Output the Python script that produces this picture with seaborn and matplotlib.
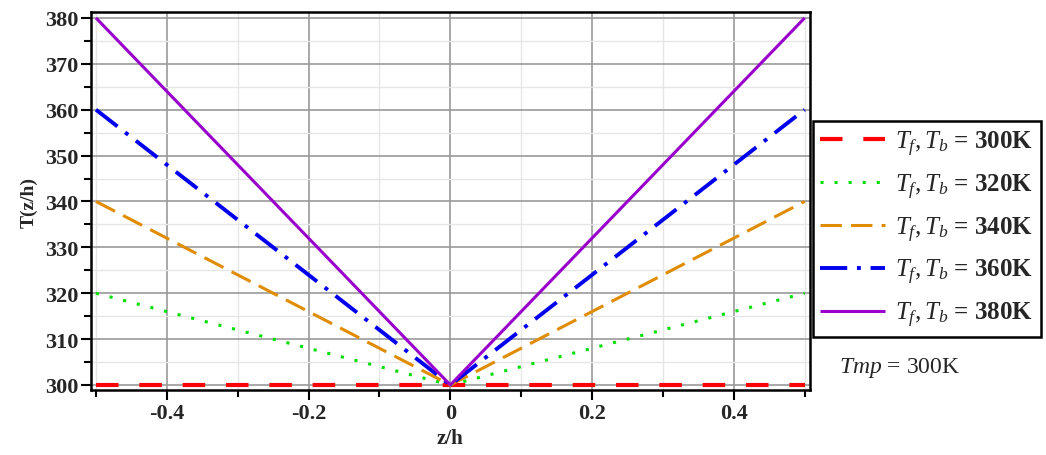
import matplotlib
matplotlib.use("Agg")
import matplotlib.pyplot as plt
from matplotlib.ticker import MultipleLocator, FuncFormatter
import seaborn as sns
import pandas as pd

z = [-0.5, 0.0, 0.5]
T300 = [300, 300, 300]
T320 = [320, 300, 320]
T340 = [340, 300, 340]
T360 = [360, 300, 360]
T380 = [380, 300, 380]
labels = ["300K", "320K", "340K", "360K", "380K"]

sns.set_theme(style="white")
plt.rcParams['font.family'] = ['Liberation Serif', 'DejaVu Serif']
plt.rcParams['mathtext.fontset'] = 'custom'
plt.rcParams['mathtext.rm'] = 'Liberation Serif'
plt.rcParams['mathtext.it'] = 'Liberation Serif:italic'
plt.rcParams['mathtext.bf'] = 'Liberation Serif:bold'
plt.rcParams['mathtext.bfit'] = 'Liberation Serif:bold:italic'

fig = plt.figure(figsize=(10.46, 4.56), dpi=100)
ax = fig.add_axes([0.087, 0.1425, 0.687, 0.829])

styles = [
    dict(color="#ff0000", lw=3.0, dashes=(5.4, 5.0)),
    dict(color="#00dd00", lw=2.2, dashes=(1.0, 3.6)),
    dict(color="#e08c00", lw=2.2, dashes=(7.0, 3.0)),
    dict(color="#0000ee", lw=2.8, dashes=(7.0, 2.5, 1.0, 2.5)),
    dict(color="#9900cc", lw=2.2, dashes=None),
]
series = [T300, T320, T340, T360, T380]
for vals, st, lab in zip(series, styles, labels):
    df = pd.DataFrame({"z": z, "T": vals})
    sns.lineplot(data=df, x="z", y="T", ax=ax, color=st["color"],
                 linewidth=st["lw"],
                 label=r"$\mathbf{\mathit{T_f,T_b}}$ = " + lab)
    l = ax.get_lines()[-1]
    if st["dashes"] is not None:
        l.set_dashes(st["dashes"])
    l.set_solid_capstyle("butt")
    l.set_dash_capstyle("butt")

if ax.get_legend() is not None:
    ax.get_legend().remove()

ax.set_xlim(-0.507, 0.507)
ax.set_ylim(298.9, 381.3)
ax.xaxis.set_major_locator(MultipleLocator(0.2))
ax.xaxis.set_minor_locator(MultipleLocator(0.1))
ax.yaxis.set_major_locator(MultipleLocator(10))
ax.yaxis.set_minor_locator(MultipleLocator(5))

def xfmt(v, p):
    if abs(v) < 1e-9:
        return "0"
    return ("-" if v < 0 else "") + ("%.1f" % abs(v))
ax.xaxis.set_major_formatter(FuncFormatter(xfmt))

ax.grid(which="major", color="#999999", linewidth=1.2)
ax.grid(which="minor", color="#e6e6e6", linewidth=1.0)
ax.set_axisbelow(True)
for s in ax.spines.values():
    s.set_color("black")
    s.set_linewidth(1.8)
ax.tick_params(which="major", direction="out", length=7, width=1.5, color="black",
               left=True, bottom=True, labelsize=16, pad=2)
ax.tick_params(which="minor", direction="out", length=5, width=1.5, color="black",
               left=True, bottom=True)
for t in ax.get_xticklabels() + ax.get_yticklabels():
    t.set_fontweight("bold")

ax.set_xlabel("z/h", fontsize=15, fontweight="bold", labelpad=4)
ax.set_ylabel("T(z/h)", fontsize=14, fontweight="bold", labelpad=5)

handles, labs = ax.get_legend_handles_labels()
leg = fig.legend(handles, labs, loc="upper left", bbox_to_anchor=(0.777, 0.732),
                 frameon=True, fancybox=False, edgecolor="black", framealpha=1,
                 fontsize=18, handlelength=2.6, handletextpad=0.4,
                 labelspacing=0.55, borderpad=0.3, borderaxespad=0)
leg.get_frame().set_linewidth(1.8)
for t in leg.get_texts():
    t.set_fontweight("bold")

fig.text(0.802, 0.193, r"$\mathit{Tmp}$ = 300K", fontsize=17, va="center", ha="left")

fig.savefig("out.png", dpi=100)
